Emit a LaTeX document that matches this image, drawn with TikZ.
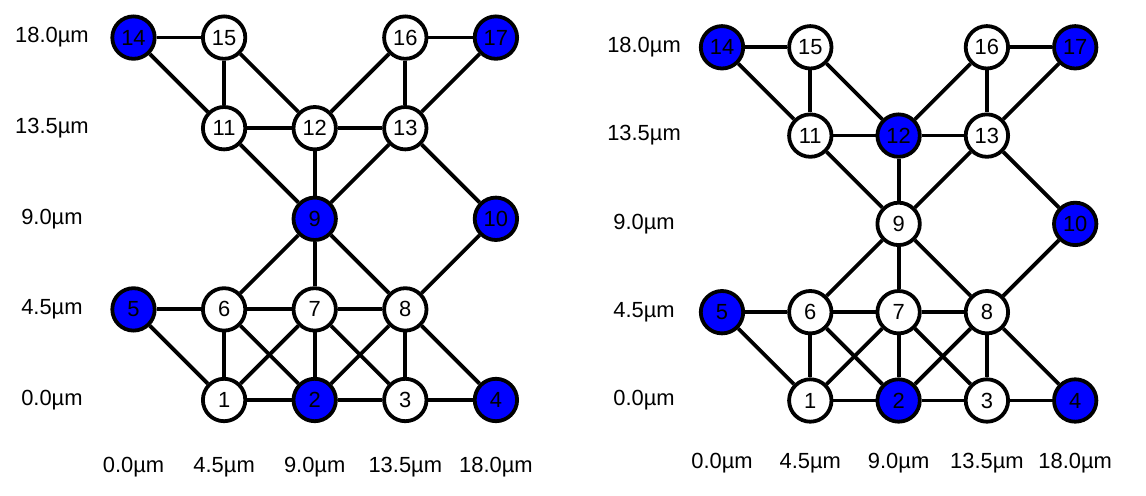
\documentclass[tikz,border=0pt]{standalone}
\usepackage{fontspec}
\setmainfont{Liberation Sans}
\definecolor{nodeblue}{RGB}{0,0,255}
\tikzset{
  vtx/.style={circle,draw=black,line width=3.8bp,minimum size=42.4bp,inner sep=0pt,
    font=\fontsize{22}{26}\selectfont},
  edge/.style={line width=3.8bp,black},
  lbl/.style={font=\fontsize{22}{26}\selectfont,inner sep=0pt}
}
% #1 prefix, #2 colour of 9, #3 colour of 12, #4 side offset, #5 bottom offset
\newcommand{\mygraph}[5]{%
  \foreach \n/\i/\j/\c in {1/1/0/white,2/2/0/nodeblue,3/3/0/white,4/4/0/nodeblue,
      5/0/1/nodeblue,6/1/1/white,7/2/1/white,8/3/1/white,9/2/2/#2,10/4/2/nodeblue,
      11/1/3/white,12/2/3/#3,13/3/3/white,14/0/4/nodeblue,15/1/4/white,16/3/4/white,17/4/4/nodeblue}
    {\node[vtx,fill=\c] (#1\n) at (\i,\j) {\n};}
  \foreach \a/\b in {14/15,14/11,15/11,15/12,16/17,16/13,16/12,17/13,11/12,12/13,
      11/9,12/9,13/9,13/10,10/8,9/6,9/7,9/8,5/6,5/1,6/7,7/8,6/1,6/2,7/1,7/2,7/3,
      8/2,8/3,8/4,1/2,2/3,3/4}
    {\draw[edge] (#1\a) -- (#1\b);}
  \foreach \k/\t in {0/0.0,1/4.5,2/9.0,3/13.5,4/18.0}
    {\node[lbl] (#1x\k) at (\k,-#5) {\t µm};
     \node[lbl] (#1y\k) at (-#4,\k) {\t µm};}
}
\begin{document}
\begin{tikzpicture}[x=1bp,y=-1bp]
\useasboundingbox (0,0) rectangle (1146,496);
\begin{scope}[shift={(133.5,400)},x=90.6bp,y=90.6bp]
  \mygraph{L}{nodeblue}{white}{0.9}{0.74}
\end{scope}
\begin{scope}[shift={(722,400.5)},x=88.3bp,y=88.3bp]
  \mygraph{R}{white}{nodeblue}{0.883}{0.71}
\end{scope}
\end{tikzpicture}
\end{document}
